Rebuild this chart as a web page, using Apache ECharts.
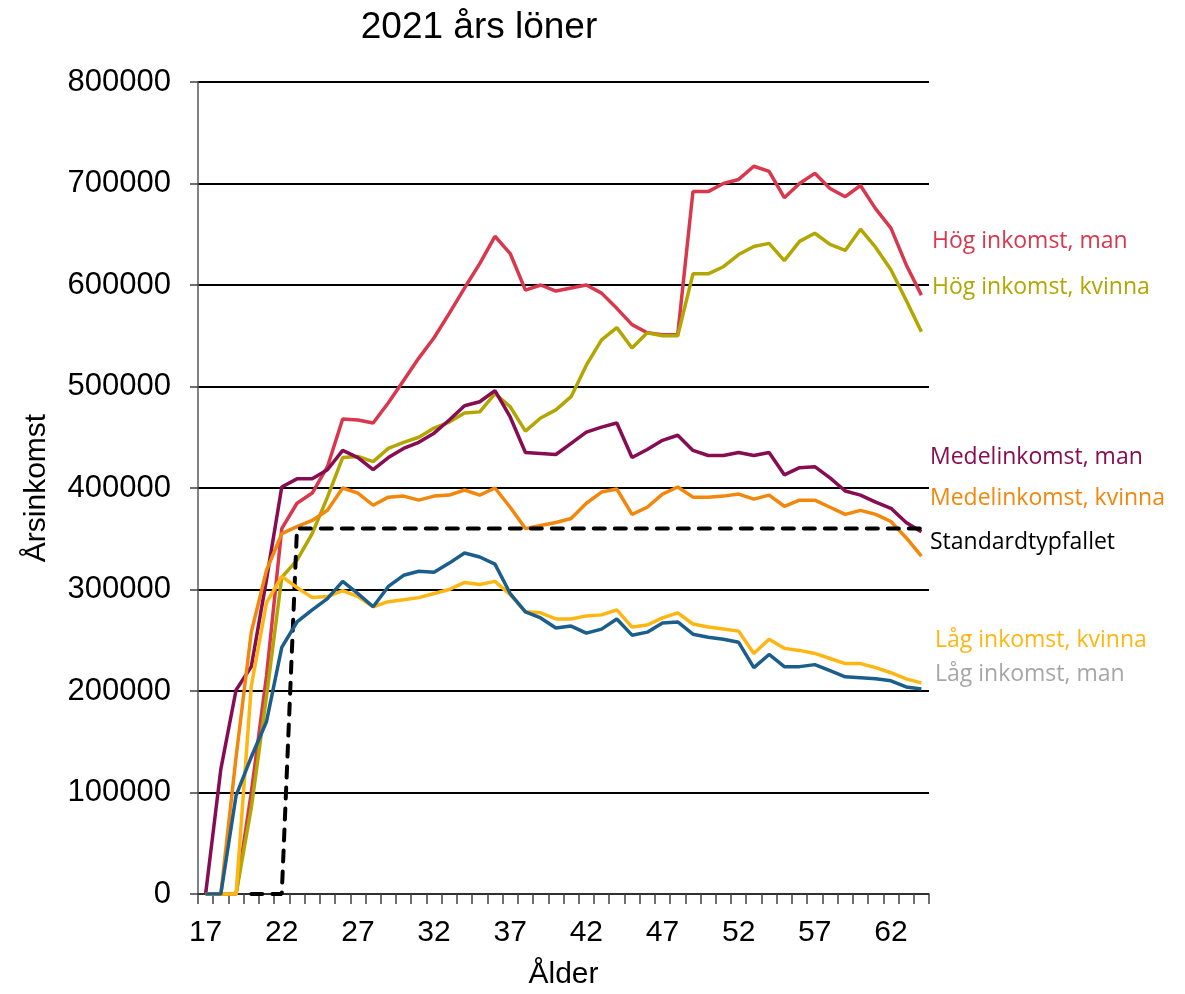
<!DOCTYPE html>
<html>
<head>
<meta charset="utf-8">
<title>2021 års löner</title>
<script src="https://cdn.jsdelivr.net/npm/echarts@6/dist/echarts.min.js"></script>
<style>
  html, body { margin: 0; padding: 0; background: #fff; }
  #chart { width: 1185px; height: 994px; }
</style>
</head>
<body>
<div id="chart"></div>
<script>
// ålder 17..64
const ages = [];
for (let a = 17; a <= 64; a++) ages.push(String(a));

const hogMan = [0, 0, 0, 100000, 215000, 360000, 385000, 395000, 421000, 468000, 467000, 464000, 484000, 506000, 528000, 548000,
  572000, 597000, 621000, 648000, 631000, 595000, 600000, 594000, 597000, 600000, 592000, 577000, 561000, 553000, 551000, 551000,
  692000, 692000, 700000, 704000, 717000, 712000, 686000, 700000, 710000, 695000, 687000, 698000, 675000, 656000, 620000, 590000];
const hogKvinna = [0, 0, 0, 85000, 195000, 312000, 329000, 355000, 391000, 430000, 431000, 426000, 439000, 445000, 450000, 459000,
  465000, 474000, 475000, 493000, 480000, 456000, 469000, 477000, 490000, 521000, 546000, 558000, 538000, 553000, 550000, 550000,
  611000, 611000, 618000, 630000, 638000, 641000, 624000, 643000, 651000, 640000, 634000, 655000, 637000, 615000, 585000, 554000];
const medelMan = [0, 123000, 201000, 224000, 310000, 401000, 409000, 409000, 418000, 437000, 430000, 418000, 430000, 439000, 445000, 454000,
  467000, 481000, 485000, 496000, 470000, 435000, 434000, 433000, 444000, 455000, 460000, 464000, 430000, 438000, 447000, 452000,
  437000, 432000, 432000, 435000, 432000, 435000, 413000, 420000, 421000, 410000, 397000, 393000, 386000, 380000, 366000, 357000];
const medelKvinna = [0, 0, 135000, 258000, 319000, 355000, 362000, 368000, 378000, 400000, 395000, 383000, 391000, 392000, 388000, 392000,
  393000, 398000, 393000, 400000, 381000, 360000, 363000, 366000, 370000, 385000, 396000, 399000, 374000, 381000, 394000, 401000,
  391000, 391000, 392000, 394000, 389000, 393000, 382000, 388000, 388000, 381000, 374000, 378000, 374000, 367000, 351000, 333000];
const standard = [null, null, null, 0, 0, 0, 360000, 360000, 360000, 360000, 360000, 360000, 360000, 360000, 360000, 360000,
  360000, 360000, 360000, 360000, 360000, 360000, 360000, 360000, 360000, 360000, 360000, 360000, 360000, 360000, 360000, 360000,
  360000, 360000, 360000, 360000, 360000, 360000, 360000, 360000, 360000, 360000, 360000, 360000, 360000, 360000, 360000, 360000];
const lagKvinna = [0, 0, 0, 205000, 287000, 313000, 302000, 292000, 293000, 299000, 293000, 283000, 288000, 290000, 292000, 296000,
  300000, 307000, 305000, 308000, 295000, 278000, 277000, 271000, 271000, 274000, 275000, 280000, 263000, 265000, 272000, 277000,
  266000, 263000, 261000, 259000, 237000, 251000, 242000, 240000, 237000, 232000, 227000, 227000, 223000, 218000, 212000, 208000];
const lagMan = [0, 0, 97000, 135000, 170000, 243000, 268000, 280000, 291000, 308000, 296000, 283000, 303000, 314000, 318000, 317000,
  326000, 336000, 332000, 325000, 296000, 278000, 272000, 262000, 264000, 257000, 261000, 271000, 255000, 258000, 267000, 268000,
  256000, 253000, 251000, 248000, 223000, 236000, 224000, 224000, 226000, 220000, 214000, 213000, 212000, 210000, 204000, 202000];

const yTicks = [0, 100000, 200000, 300000, 400000, 500000, 600000, 700000, 800000];

const chart = echarts.init(document.getElementById('chart'));

function line(name, data, color, extra) {
  return Object.assign({
    name: name,
    type: 'line',
    data: data,
    showSymbol: false,
    symbol: 'none',
    lineStyle: { color: color, width: 3.5 },
    itemStyle: { color: color },
    connectNulls: false
  }, extra || {});
}

// etiketter till höger om diagrammet
const labels = [
  { text: 'Hög inkomst, man', y: 242, color: '#d8374d', x: 932 },
  { text: 'Hög inkomst, kvinna', y: 288, color: '#b3a600', x: 932 },
  { text: 'Medelinkomst, man', y: 458, color: '#870c51', x: 930 },
  { text: 'Medelinkomst, kvinna', y: 499, color: '#f2870c', x: 930 },
  { text: 'Standardtypfallet', y: 543, color: '#000000', x: 930 },
  { text: 'Låg inkomst, kvinna', y: 641, color: '#ffb612', x: 935 },
  { text: 'Låg inkomst, man', y: 675, color: '#a6a6a6', x: 935 }
];

chart.setOption({
  animation: false,
  title: {
    text: '2021 års löner',
    left: 474,
    top: 4,
    textAlign: 'center',
    textStyle: { fontFamily: 'Liberation Sans, Arial', fontSize: 37, fontWeight: 'normal', color: '#000' }
  },
  grid: { left: 198, right: 256, top: 82, bottom: 100, outerBoundsMode: 'none' },
  xAxis: {
    type: 'category',
    data: ages,
    boundaryGap: true,
    name: 'Ålder',
    nameLocation: 'middle',
    nameGap: 66,
    nameTextStyle: { fontFamily: 'Liberation Sans, Arial', fontSize: 30, color: '#000' },
    axisLine: { lineStyle: { color: '#404040', width: 1.5 } },
    axisTick: { show: true, interval: 0, length: 10, lineStyle: { color: '#404040', width: 1.5 } },
    axisLabel: {
      interval: 4,
      margin: 24,
      fontFamily: 'Liberation Sans, Arial',
      fontSize: 30,
      color: '#000'
    },
    splitLine: { show: false }
  },
  yAxis: {
    type: 'value',
    min: yTicks[0],
    max: yTicks[yTicks.length - 1],
    interval: 100000,
    name: 'Årsinkomst',
    nameLocation: 'middle',
    nameGap: 146,
    nameTextStyle: { fontFamily: 'Liberation Sans, Arial', fontSize: 30, color: '#000' },
    axisLine: { show: true, lineStyle: { color: '#595959', width: 1.5 } },
    axisTick: { show: true, length: 8, lineStyle: { color: '#404040', width: 1.5 } },
    axisLabel: {
      margin: 27,
      fontFamily: 'Liberation Sans, Arial',
      fontSize: 31,
      color: '#000',
      formatter: function (v) { return String(v); }
    },
    splitLine: { show: true, lineStyle: { color: '#000', width: 2 } }
  },
  graphic: labels.map(function (l) {
    return {
      type: 'text',
      left: l.x,
      top: l.y - 12,
      style: {
        text: l.text,
        fill: l.color,
        fontFamily: 'Open Sans, Noto Sans, sans-serif',
        fontSize: 23
      }
    };
  }),
  series: [
    line('Hög inkomst, man', hogMan, '#d8374d'),
    line('Hög inkomst, kvinna', hogKvinna, '#b3a600'),
    line('Medelinkomst, man', medelMan, '#870c51'),
    line('Medelinkomst, kvinna', medelKvinna, '#f2870c'),
    line('Standardtypfallet', standard, '#000', {
      lineStyle: { color: '#000', width: 4, type: [11, 10], cap: 'round' }
    }),
    line('Låg inkomst, kvinna', lagKvinna, '#ffb612'),
    line('Låg inkomst, man', lagMan, '#1b5e8c')
  ]
});
</script>
</body>
</html>
